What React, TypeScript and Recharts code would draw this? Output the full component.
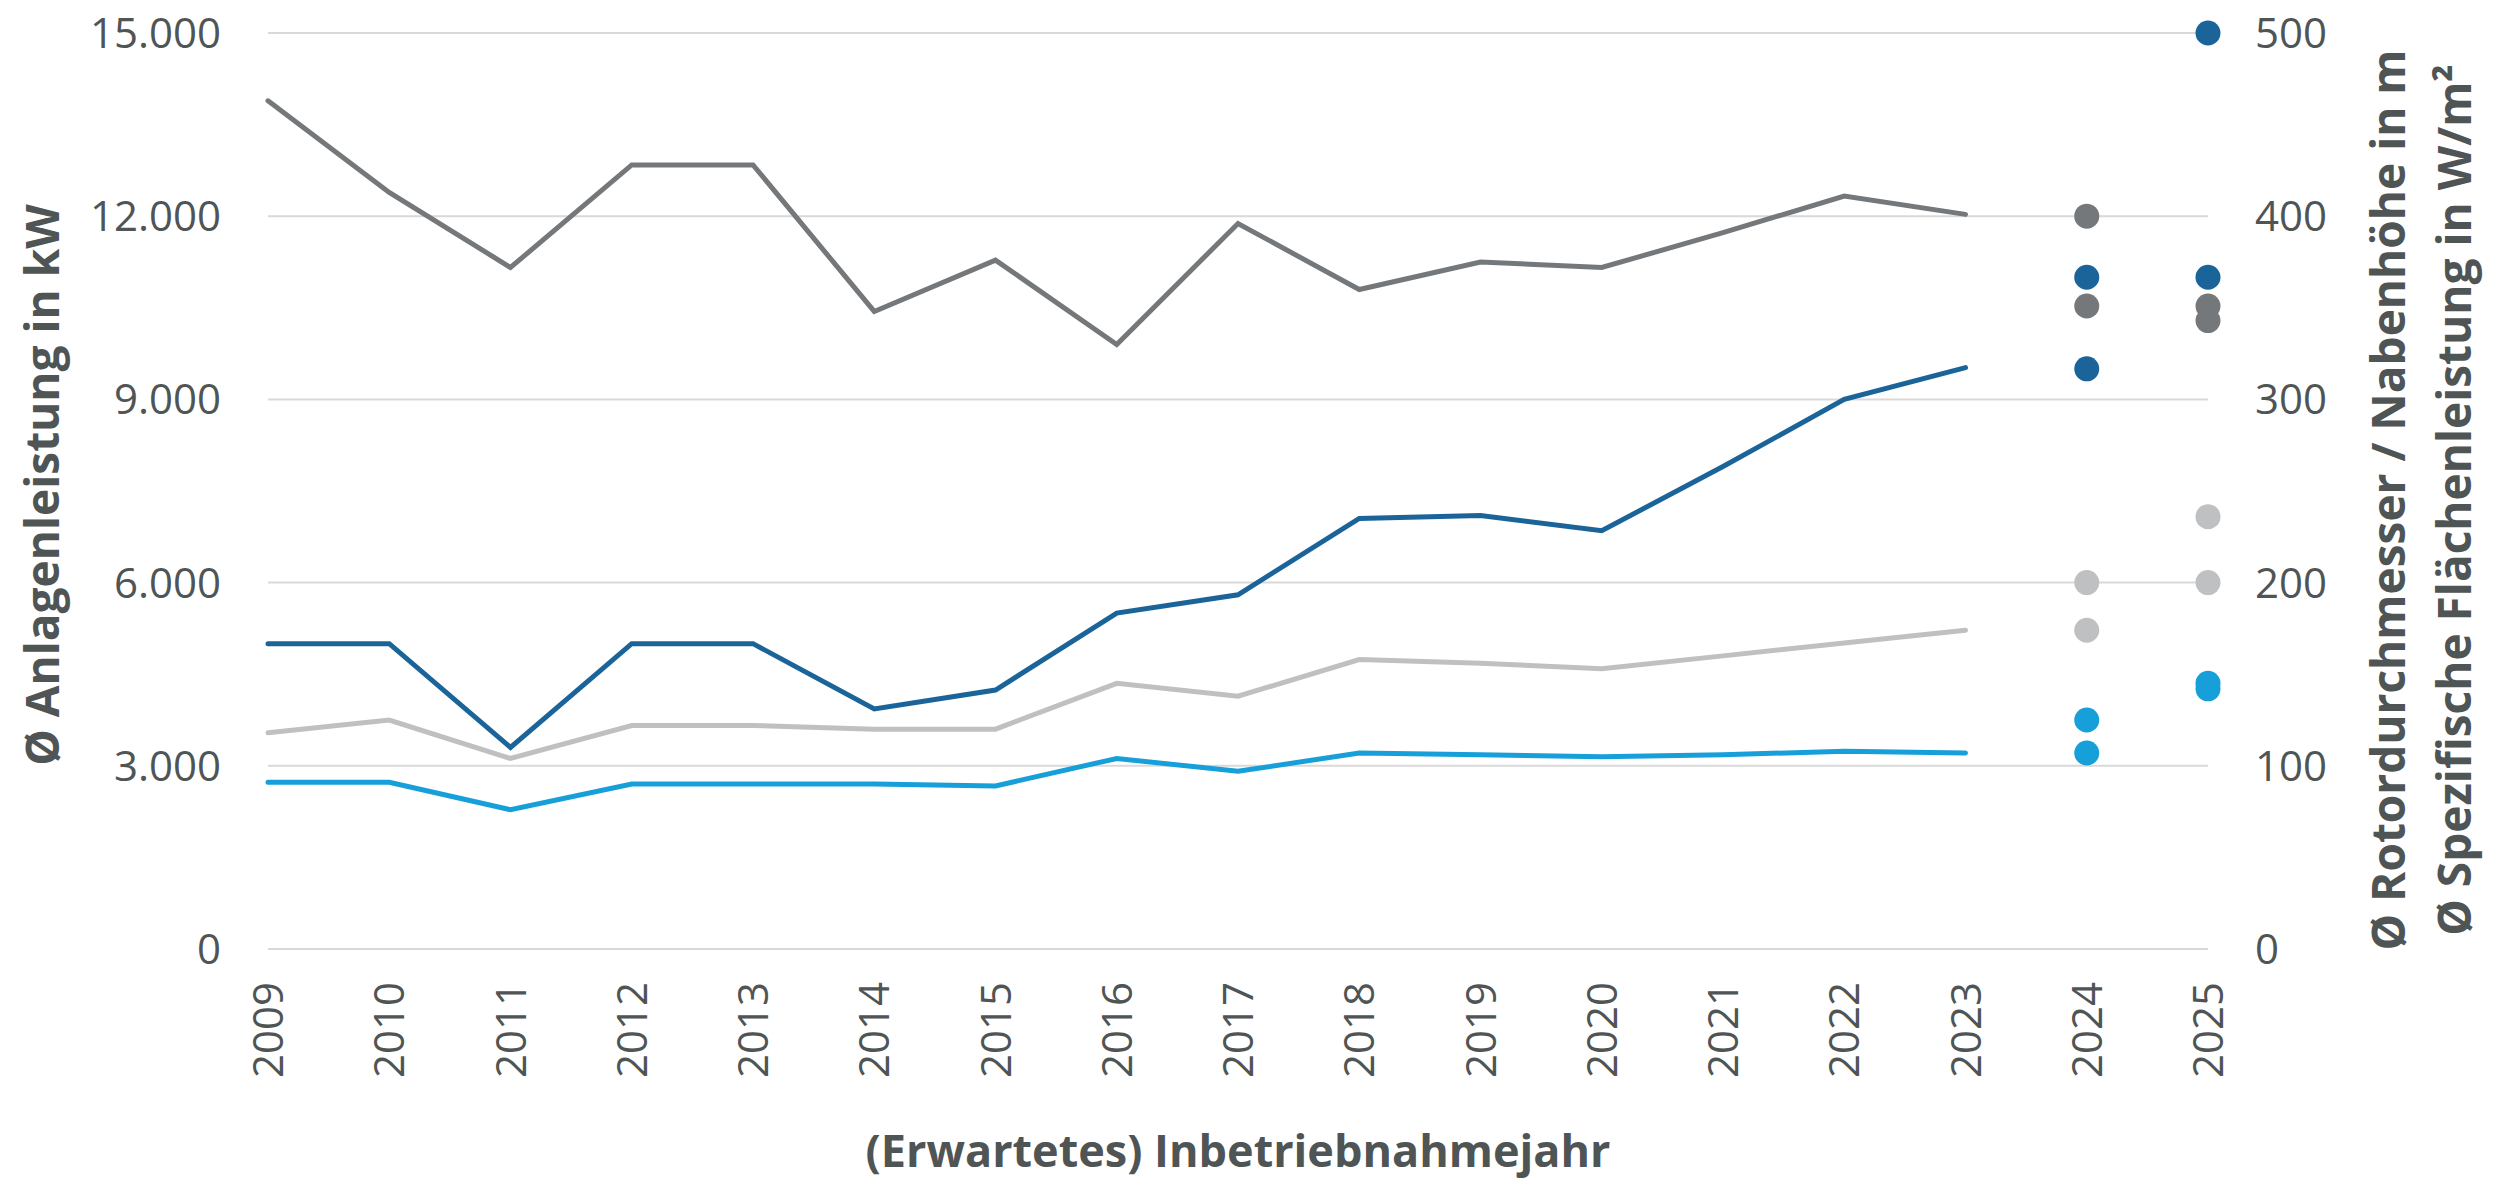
import React from "react";
import {
  ComposedChart,
  Line,
  XAxis,
  YAxis,
  CartesianGrid,
  Label,
} from "recharts";

// Inbetriebnahmejahre
const years = [
  "2009", "2010", "2011", "2012", "2013", "2014", "2015", "2016", "2017",
  "2018", "2019", "2020", "2021", "2022", "2023", "2024", "2025",
];

// Ist-Werte 2009–2023
const anlagenleistung = [5000, 5000, 3300, 5000, 5000, 3930, 4240, 5500, 5800, 7050, 7100, 6850, 7900, 9000, 9520];
const flaechenleistung = [463, 413, 372, 428, 428, 348, 376, 330, 396, 360, 375, 372, 391, 411, 401];
const rotordurchmesser = [118, 125, 104, 122, 122, 120, 120, 145, 138, 158, 156, 153, 160, 167, 174];
const nabenhoehe = [91, 91, 76, 90, 90, 90, 89, 104, 97, 107, 106, 105, 106, 108, 107];

// erwartete Werte 2024 / 2025 (je zwei Punkte)
const leistungA = [11000, 15000];
const leistungB = [9500, 11000];
const flaecheA = [400, 351];
const flaecheB = [351, 343];
const rotorA = [200, 236];
const rotorB = [174, 200];
const nabeA = [125, 145];
const nabeB = [107, 142];

const kwTicks = [0, 3000, 6000, 9000, 12000, 15000];
const mTicks = [0, 100, 200, 300, 400, 500];

const DARK_BLUE = "#1b6499";
const LIGHT_BLUE = "#179fd9";
const DARK_GREY = "#75787a";
const LIGHT_GREY = "#bfc0c2";
const TEXT = "#4f5455";
const GRID = "#d9d9d9";
const FONT = "'Open Sans', 'Noto Sans', sans-serif";

const histCount = anlagenleistung.length;
const proj = (arr: number[], i: number) => (i >= histCount ? arr[i - histCount] : null);

const data = years.map((year, i) => ({
  year,
  leistung: i < histCount ? anlagenleistung[i] : null,
  flaeche: i < histCount ? flaechenleistung[i] : null,
  rotor: i < histCount ? rotordurchmesser[i] : null,
  nabe: i < histCount ? nabenhoehe[i] : null,
  leistungA: proj(leistungA, i),
  leistungB: proj(leistungB, i),
  flaecheA: proj(flaecheA, i),
  flaecheB: proj(flaecheB, i),
  rotorA: proj(rotorA, i),
  rotorB: proj(rotorB, i),
  nabeA: proj(nabeA, i),
  nabeB: proj(nabeB, i),
}));

const fmtDe = (v: number) => String(v).replace(/\B(?=(\d{3})+(?!\d))/g, ".");

function YearTick(props: any) {
  const { x, y, payload } = props;
  return (
    <text
      x={0}
      y={0}
      transform={`translate(${x + 15}, ${y + 33}) rotate(-90)`}
      textAnchor="end"
      fontSize={42}
      fill={TEXT}
      fontFamily={FONT}
    >
      {payload.value}
    </text>
  );
}

function RotatedTitle({ x, y, text }: { x: number; y: number; text: string }) {
  return (
    <text
      x={0}
      y={0}
      transform={`translate(${x}, ${y}) rotate(-90)`}
      textAnchor="middle"
      fontSize={46}
      fontWeight={700}
      fill={TEXT}
      fontFamily={FONT}
    >
      {text}
    </text>
  );
}

const dotStyle = (color: string) => ({ r: 12.5, fill: color, stroke: "none", strokeWidth: 0 });

export default function App() {
  return (
    <div style={{ position: "fixed", left: 0, top: 0, width: 2512, height: 1180, background: "#fff" }}>
      <ComposedChart
        width={2512}
        height={1180}
        data={data}
        margin={{ top: 33, right: 0, bottom: 0, left: 0 }}
      >
        <CartesianGrid yAxisId="kw" vertical={false} stroke={GRID} strokeWidth={2} />
        <XAxis
          dataKey="year"
          height={231}
          interval={0}
          axisLine={false}
          tickLine={false}
          tickSize={0}
          tickMargin={0}
          tick={<YearTick />}
        >
          <Label
            content={(p: any) => {
              const vb = p.viewBox;
              return (
                <text
                  x={vb.x + vb.width / 2}
                  y={vb.y + 218}
                  textAnchor="middle"
                  fontSize={45}
                  fontWeight={700}
                  fill={TEXT}
                  fontFamily={FONT}
                >
                  (Erwartetes) Inbetriebnahmejahr
                </text>
              );
            }}
          />
        </XAxis>
        <YAxis
          yAxisId="kw"
          orientation="left"
          width={268}
          domain={[0, 15000]}
          ticks={kwTicks}
          tickFormatter={fmtDe}
          axisLine={false}
          tickLine={false}
          tickSize={0}
          tickMargin={47}
          tick={{ fontSize: 42, fill: TEXT, fontFamily: FONT }}
        >
          <Label
            content={(p: any) => {
              const vb = p.viewBox;
              return <RotatedTitle x={vb.x + 59} y={vb.y + vb.height / 2 - 6} text="Ø Anlagenleistung in kW" />;
            }}
          />
        </YAxis>
        <YAxis
          yAxisId="m"
          orientation="right"
          width={304}
          domain={[0, 500]}
          ticks={mTicks}
          axisLine={false}
          tickLine={false}
          tickSize={0}
          tickMargin={47}
          tick={{ fontSize: 42, fill: TEXT, fontFamily: FONT }}
        >
          <Label
            content={(p: any) => {
              const vb = p.viewBox;
              const cy = vb.y + vb.height / 2 + 9;
              return (
                <g>
                  <RotatedTitle x={vb.x + 197} y={cy} text="Ø Rotordurchmesser / Nabenhöhe in m" />
                  <RotatedTitle x={vb.x + 263} y={cy} text="Ø Spezifische Flächenleistung in W/m²" />
                </g>
              );
            }}
          />
        </YAxis>

        <Line yAxisId="m" dataKey="rotor" stroke={LIGHT_GREY} strokeWidth={5} dot={false} activeDot={false} strokeLinecap="round" isAnimationActive={false} />
        <Line yAxisId="m" dataKey="nabe" stroke={LIGHT_BLUE} strokeWidth={5} dot={false} activeDot={false} strokeLinecap="round" isAnimationActive={false} />
        <Line yAxisId="m" dataKey="flaeche" stroke={DARK_GREY} strokeWidth={5} dot={false} activeDot={false} strokeLinecap="round" isAnimationActive={false} />
        <Line yAxisId="kw" dataKey="leistung" stroke={DARK_BLUE} strokeWidth={5} dot={false} activeDot={false} strokeLinecap="round" isAnimationActive={false} />

        <Line yAxisId="m" dataKey="rotorA" stroke="none" dot={dotStyle(LIGHT_GREY)} activeDot={false} isAnimationActive={false} />
        <Line yAxisId="m" dataKey="rotorB" stroke="none" dot={dotStyle(LIGHT_GREY)} activeDot={false} isAnimationActive={false} />
        <Line yAxisId="m" dataKey="nabeA" stroke="none" dot={dotStyle(LIGHT_BLUE)} activeDot={false} isAnimationActive={false} />
        <Line yAxisId="m" dataKey="nabeB" stroke="none" dot={dotStyle(LIGHT_BLUE)} activeDot={false} isAnimationActive={false} />
        <Line yAxisId="m" dataKey="flaecheA" stroke="none" dot={dotStyle(DARK_GREY)} activeDot={false} isAnimationActive={false} />
        <Line yAxisId="m" dataKey="flaecheB" stroke="none" dot={dotStyle(DARK_GREY)} activeDot={false} isAnimationActive={false} />
        <Line yAxisId="kw" dataKey="leistungA" stroke="none" dot={dotStyle(DARK_BLUE)} activeDot={false} isAnimationActive={false} />
        <Line yAxisId="kw" dataKey="leistungB" stroke="none" dot={dotStyle(DARK_BLUE)} activeDot={false} isAnimationActive={false} />
      </ComposedChart>
    </div>
  );
}
